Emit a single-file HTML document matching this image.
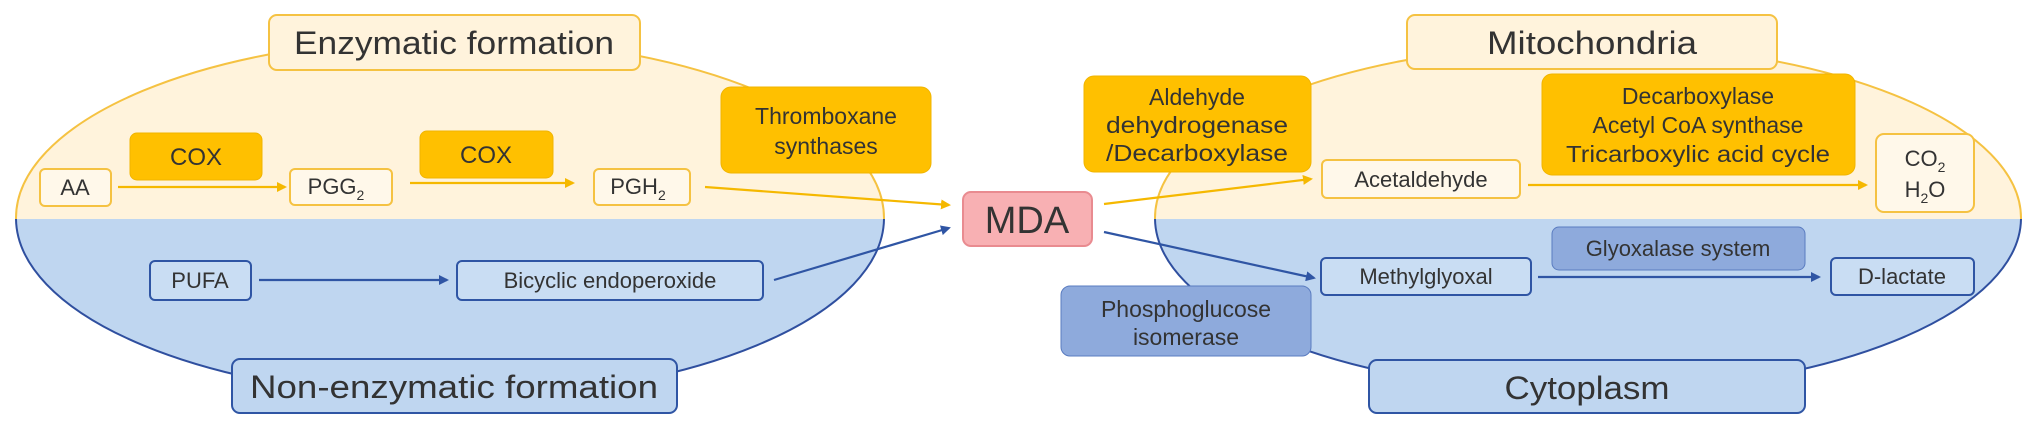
<!DOCTYPE html>
<html><head><meta charset="utf-8"><style>
html,body{margin:0;padding:0;background:#fff;}
svg{display:block;}
text{font-family:"Liberation Sans",sans-serif;fill:#333;}
</style></head><body>
<svg width="2032" height="440" viewBox="0 0 2032 440" xmlns="http://www.w3.org/2000/svg">
<defs>
<clipPath id="topL"><rect x="0" y="0" width="1000" height="219"/></clipPath>
<clipPath id="botL"><rect x="0" y="219" width="1000" height="230"/></clipPath>
<clipPath id="topR"><rect x="1100" y="0" width="940" height="219"/></clipPath>
<clipPath id="botR"><rect x="1100" y="219" width="940" height="230"/></clipPath>
<marker id="ao" markerWidth="10" markerHeight="10" refX="8" refY="5" orient="auto" markerUnits="userSpaceOnUse"><path d="M0,0 L10,5 L0,10 z" fill="#f5b800"/></marker>
<marker id="ab" markerWidth="10" markerHeight="10" refX="8" refY="5" orient="auto" markerUnits="userSpaceOnUse"><path d="M0,0 L10,5 L0,10 z" fill="#2f55a4"/></marker>
</defs>
<!-- left ellipse -->
<ellipse cx="450" cy="218" rx="434" ry="180" fill="#fff3dc" stroke="#f5c242" stroke-width="2" clip-path="url(#topL)"/>
<ellipse cx="450" cy="218" rx="434" ry="180" fill="#bfd6f0" stroke="#2f4f9f" stroke-width="2" clip-path="url(#botL)"/>
<!-- right ellipse -->
<ellipse cx="1588" cy="218" rx="433" ry="174" fill="#fff3dc" stroke="#f5c242" stroke-width="2" clip-path="url(#topR)"/>
<ellipse cx="1588" cy="218" rx="433" ry="174" fill="#bfd6f0" stroke="#2f4f9f" stroke-width="2" clip-path="url(#botR)"/>

<!-- titles -->
<rect x="269" y="15" width="371" height="55" rx="8" fill="#fff3dc" stroke="#f5c242" stroke-width="2"/>
<text x="454" y="54" font-size="32" text-anchor="middle" textLength="320" lengthAdjust="spacingAndGlyphs">Enzymatic formation</text>
<rect x="232" y="359" width="445" height="54" rx="8" fill="#bfd6f0" stroke="#2f55a4" stroke-width="2"/>
<text x="454" y="398" font-size="32" text-anchor="middle" textLength="408" lengthAdjust="spacingAndGlyphs">Non-enzymatic formation</text>
<rect x="1407" y="15" width="370" height="54" rx="8" fill="#fff3dc" stroke="#f5c242" stroke-width="2"/>
<text x="1592" y="54" font-size="32" text-anchor="middle" textLength="210" lengthAdjust="spacingAndGlyphs">Mitochondria</text>
<rect x="1369" y="360" width="436" height="53" rx="8" fill="#bfd6f0" stroke="#2f55a4" stroke-width="2"/>
<text x="1587" y="399" font-size="32" text-anchor="middle" textLength="165" lengthAdjust="spacingAndGlyphs">Cytoplasm</text>

<!-- orange enzymes -->
<rect x="130" y="133" width="132" height="47" rx="7" fill="#ffc000" stroke="#f0b400"/>
<text x="196" y="165" font-size="24" text-anchor="middle">COX</text>
<rect x="420" y="131" width="133" height="47" rx="7" fill="#ffc000" stroke="#f0b400"/>
<text x="486" y="163" font-size="24" text-anchor="middle">COX</text>
<rect x="721" y="87" width="210" height="86" rx="10" fill="#ffc000" stroke="#f0b400"/>
<text x="826" y="124" font-size="23" text-anchor="middle">Thromboxane</text>
<text x="826" y="154" font-size="23" text-anchor="middle">synthases</text>
<rect x="1084" y="76" width="227" height="96" rx="10" fill="#ffc000" stroke="#f0b400"/>
<text x="1197" y="105" font-size="23" text-anchor="middle">Aldehyde</text>
<text x="1197" y="133" font-size="23" text-anchor="middle" textLength="182" lengthAdjust="spacingAndGlyphs">dehydrogenase</text>
<text x="1197" y="161" font-size="23" text-anchor="middle" textLength="182" lengthAdjust="spacingAndGlyphs">/Decarboxylase</text>
<rect x="1542" y="74" width="313" height="101" rx="10" fill="#ffc000" stroke="#f0b400"/>
<text x="1698" y="104" font-size="23" text-anchor="middle">Decarboxylase</text>
<text x="1698" y="133" font-size="23" text-anchor="middle">Acetyl CoA synthase</text>
<text x="1698" y="162" font-size="23" text-anchor="middle" textLength="264" lengthAdjust="spacingAndGlyphs">Tricarboxylic acid cycle</text>

<!-- blue enzymes -->
<rect x="1552" y="227" width="253" height="43" rx="7" fill="#8eaadc" stroke="#5a7cc0"/>
<text x="1678" y="256" font-size="22" text-anchor="middle">Glyoxalase system</text>
<rect x="1061" y="286" width="250" height="70" rx="9" fill="#8eaadc" stroke="#5a7cc0"/>
<text x="1186" y="317" font-size="23" text-anchor="middle">Phosphoglucose</text>
<text x="1186" y="345" font-size="23" text-anchor="middle">isomerase</text>

<!-- nodes -->
<g stroke-width="2">
<rect x="40" y="169" width="71" height="37" rx="5" fill="#fff8ea" stroke="#f5c242"/>
<rect x="290" y="169" width="102" height="36" rx="5" fill="#fff8ea" stroke="#f5c242"/>
<rect x="594" y="169" width="96" height="36" rx="5" fill="#fff8ea" stroke="#f5c242"/>
<rect x="1322" y="160" width="198" height="38" rx="5" fill="#fff8ea" stroke="#f5c242"/>
<rect x="1876" y="134" width="98" height="78" rx="8" fill="#fff8ea" stroke="#f5c242"/>
<rect x="150" y="261" width="101" height="39" rx="5" fill="#c9ddf3" stroke="#2f55a4"/>
<rect x="457" y="261" width="306" height="39" rx="5" fill="#c9ddf3" stroke="#2f55a4"/>
<rect x="1321" y="258" width="210" height="37" rx="5" fill="#c9ddf3" stroke="#2f55a4"/>
<rect x="1831" y="258" width="143" height="37" rx="5" fill="#c9ddf3" stroke="#2f55a4"/>
</g>
<text x="75" y="195" font-size="22" text-anchor="middle">AA</text>
<text x="336" y="194" font-size="22" text-anchor="middle">PGG<tspan font-size="14" dy="6">2</tspan></text>
<text x="638" y="194" font-size="22" text-anchor="middle">PGH<tspan font-size="14" dy="6">2</tspan></text>
<text x="1421" y="187" font-size="22" text-anchor="middle">Acetaldehyde</text>
<text x="1925" y="166" font-size="22" text-anchor="middle">CO<tspan font-size="14" dy="6">2</tspan></text>
<text x="1925" y="197" font-size="22" text-anchor="middle">H<tspan font-size="14" dy="6">2</tspan><tspan dy="-6">O</tspan></text>
<text x="200" y="288" font-size="22" text-anchor="middle">PUFA</text>
<text x="610" y="288" font-size="22" text-anchor="middle">Bicyclic endoperoxide</text>
<text x="1426" y="284" font-size="22" text-anchor="middle">Methylglyoxal</text>
<text x="1902" y="284" font-size="22" text-anchor="middle">D-lactate</text>

<!-- MDA -->
<rect x="963" y="192" width="129" height="54" rx="8" fill="#f8b0b3" stroke="#e98b90" stroke-width="2"/>
<text x="1027" y="233" font-size="38" text-anchor="middle">MDA</text>

<!-- arrows -->
<g stroke-width="2.2" fill="none">
<line x1="118" y1="187" x2="285" y2="187" stroke="#f5b800" marker-end="url(#ao)"/>
<line x1="410" y1="183" x2="573" y2="183" stroke="#f5b800" marker-end="url(#ao)"/>
<line x1="705" y1="187" x2="949" y2="205" stroke="#f5b800" marker-end="url(#ao)"/>
<line x1="1104" y1="204" x2="1311" y2="179" stroke="#f5b800" marker-end="url(#ao)"/>
<line x1="1528" y1="185" x2="1866" y2="185" stroke="#f5b800" marker-end="url(#ao)"/>
<line x1="259" y1="280" x2="447" y2="280" stroke="#2f55a4" marker-end="url(#ab)"/>
<line x1="774" y1="280" x2="949" y2="228" stroke="#2f55a4" marker-end="url(#ab)"/>
<line x1="1104" y1="232" x2="1314" y2="278" stroke="#2f55a4" marker-end="url(#ab)"/>
<line x1="1538" y1="277" x2="1819" y2="277" stroke="#2f55a4" marker-end="url(#ab)"/>
</g>
</svg>
</body></html>
